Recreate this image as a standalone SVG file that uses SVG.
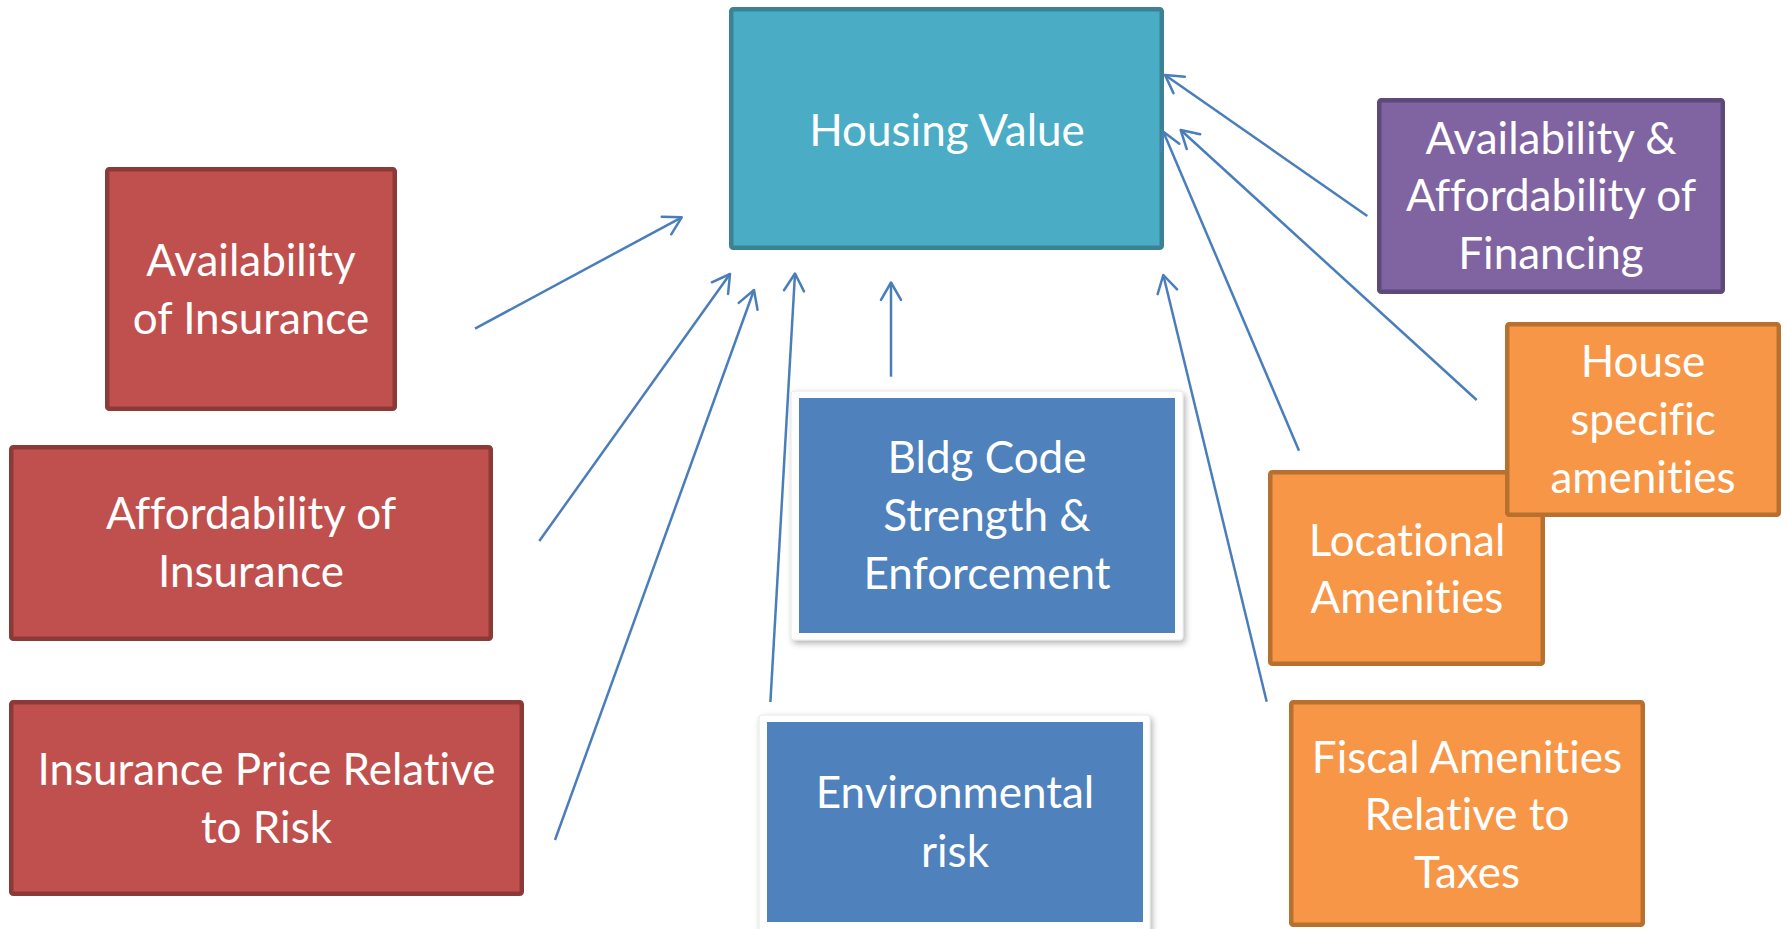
<svg xmlns="http://www.w3.org/2000/svg" width="1788" height="929" viewBox="0 0 1788 929">
<style>
.box{stroke-width:4.5}
.red{fill:#C0504D;stroke:#8C3A38}
.teal{fill:#4BACC6;stroke:#3A8294}
.purple{fill:#8064A2;stroke:#5E4A7A}
.orange{fill:#F79646;stroke:#B8702F}
.blue{fill:#4F81BD}
.frame{fill:#ffffff;stroke:#e2e2e2;stroke-width:0.8}
text{font-family:Lato,"Open Sans","Liberation Sans",sans-serif;font-size:44px;fill:#ffffff;text-anchor:middle;font-variant-ligatures:none}
.conn line{stroke:#4A7EBB;stroke-width:2.5;fill:none;marker-end:url(#arr)}
</style>
<defs>
<marker id="arr" markerUnits="userSpaceOnUse" viewBox="-25 -15 30 30" refX="0" refY="0" markerWidth="30" markerHeight="30" orient="auto" overflow="visible">
<path d="M-17.3,-10 L0,0 L-17.3,10" fill="none" stroke="#4A7EBB" stroke-width="2.5" stroke-linecap="round" stroke-linejoin="round"/>
</marker>
<filter id="sh" x="-10%" y="-10%" width="125%" height="125%">
<feDropShadow dx="2" dy="3" stdDeviation="3" flood-color="#000" flood-opacity="0.3"/>
</filter>
</defs>

<g id="housing-value">
<rect class="box teal" x="731.25" y="9.25" width="430.5" height="238.5" rx="2"/>
<text x="947" y="146">Housing Value</text>
</g>

<g id="availability-insurance">
<rect class="box red" x="107.25" y="169.25" width="287.5" height="239.5" rx="2"/>
<text x="251" y="276">Availability</text>
<text x="251" y="334">of Insurance</text>
</g>

<g id="affordability-insurance">
<rect class="box red" x="11.25" y="447.25" width="479.5" height="191.5" rx="2"/>
<text x="251" y="529">Affordability of</text>
<text x="251" y="587">Insurance</text>
</g>

<g id="insurance-price">
<rect class="box red" x="11.25" y="702.25" width="510.5" height="191.5" rx="2"/>
<text x="266.5" y="785">Insurance Price Relative</text>
<text x="266.5" y="843">to Risk</text>
</g>

<g id="bldg-code">
<rect class="frame" x="791" y="391" width="392" height="249" rx="3" filter="url(#sh)"/>
<rect class="blue" x="799" y="398" width="376" height="235"/>
<text x="987" y="473">Bldg Code</text>
<text x="987" y="531">Strength &amp;</text>
<text x="987" y="589">Enforcement</text>
</g>

<g id="environmental-risk">
<rect class="frame" x="759" y="715" width="391" height="230" rx="3" filter="url(#sh)"/>
<rect class="blue" x="767" y="722" width="376" height="200"/>
<text x="955" y="808">Environmental</text>
<text x="955" y="867">risk</text>
</g>

<g id="financing">
<rect class="box purple" x="1379.25" y="100.25" width="343.5" height="191.5" rx="2"/>
<text x="1551" y="154">Availability &amp;</text>
<text x="1551" y="211">Affordability of</text>
<text x="1551" y="269">Financing</text>
</g>

<g id="locational-amenities">
<rect class="box orange" x="1270.25" y="472.25" width="272.5" height="191.5" rx="2"/>
<text x="1407" y="556">Locational</text>
<text x="1407" y="613">Amenities</text>
</g>

<g id="house-specific">
<rect class="box orange" x="1507.25" y="324.25" width="271.5" height="190.5" rx="2"/>
<text x="1643" y="377">House</text>
<text x="1643" y="435">specific</text>
<text x="1643" y="493">amenities</text>
</g>

<g id="fiscal-amenities">
<rect class="box orange" x="1291.25" y="702.25" width="351.5" height="222.5" rx="2"/>
<text x="1467" y="773">Fiscal Amenities</text>
<text x="1467" y="830">Relative to</text>
<text x="1467" y="888">Taxes</text>
</g>

<g id="connectors" class="conn">
<line x1="475" y1="328.6" x2="681.7" y2="217.3"/>
<line x1="539.3" y1="541" x2="730" y2="274"/>
<line x1="555" y1="840" x2="754" y2="290"/>
<line x1="770.4" y1="702" x2="795" y2="273.5"/>
<line x1="891" y1="376.7" x2="891" y2="282.5"/>
<line x1="1266.7" y1="701.7" x2="1163.3" y2="275"/>
<line x1="1299" y1="450.7" x2="1163.3" y2="131.7"/>
<line x1="1476.7" y1="400" x2="1180.7" y2="130"/>
<line x1="1367.3" y1="216" x2="1165" y2="75"/>
</g>
</svg>
